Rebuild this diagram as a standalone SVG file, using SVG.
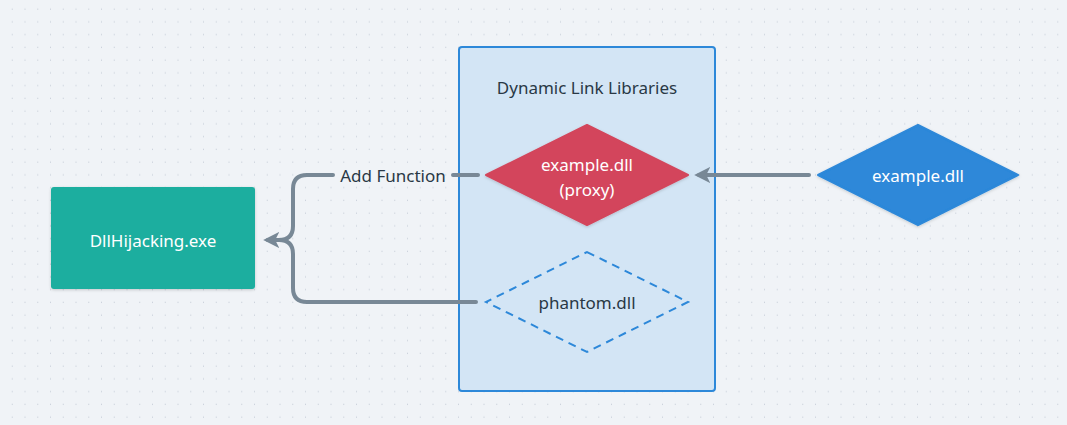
<svg xmlns="http://www.w3.org/2000/svg" width="1067" height="425" viewBox="0 0 1067 425">
<defs>
<pattern id="dots" x="0" y="0" width="12.75" height="12.75" patternUnits="userSpaceOnUse">
<rect x="12" y="8.5" width="1.3" height="1.3" fill="#bfc6d2"/>
</pattern>
<marker id="arr" viewBox="0 0 10 10" refX="7" refY="5" markerWidth="4" markerHeight="4" orient="auto" markerUnits="strokeWidth">
<path d="M0,0 L10,5 L0,10 L2.5,5 Z" fill="#788896"/>
</marker>
<filter id="sh" x="-10%" y="-10%" width="120%" height="130%">
<feDropShadow dx="0" dy="1" stdDeviation="1.5" flood-color="#000" flood-opacity="0.18"/>
</filter>
</defs>
<style>
text{font-family:"Noto Sans","DejaVu Sans",sans-serif;font-size:17px;text-anchor:middle;dominant-baseline:central}
.w{fill:#ffffff}
.d{fill:#293845}
.c{fill:none;stroke:#788896;stroke-width:4;stroke-linecap:round;stroke-linejoin:round}
</style>
<rect width="1067" height="425" fill="#f0f3f7"/>
<rect width="1067" height="425" fill="url(#dots)"/>
<g id="container">
<rect x="459" y="47" width="256" height="344" rx="3" fill="#d3e5f5" stroke="#2d88d9" stroke-width="2"/>
<text class="d" x="587" y="87">Dynamic Link Libraries</text>
</g>
<g id="exe">
<rect x="51" y="187" width="204" height="102" rx="3" fill="#1aae9f" filter="url(#sh)"/>
<text class="w" x="153" y="240">DllHijacking.exe</text>
</g>
<g id="proxy">
<path d="M587,125 L688,175 L587,225 L486,175 Z" fill="#d3455b" stroke="#d3455b" stroke-width="2" stroke-linejoin="round" filter="url(#sh)"/>
<text class="w" x="587" y="164">example.dll</text>
<text class="w" x="587" y="189">(proxy)</text>
</g>
<g id="orig">
<path d="M918,125 L1018,175 L918,225 L818,175 Z" fill="#2d88d9" stroke="#2d88d9" stroke-width="2" stroke-linejoin="round" filter="url(#sh)"/>
<text class="w" x="918" y="175">example.dll</text>
</g>
<g id="phantom">
<path d="M587,252 L688,302 L587,352 L486,302 Z" fill="none" stroke="#2d88d9" stroke-width="2" stroke-dasharray="8,6"/>
<text class="d" x="587" y="302">phantom.dll</text>
</g>
<g id="connectors">
<path class="c" d="M809,175 L699,175" marker-end="url(#arr)"/>
<path class="c" d="M478,175 L453,175 M333,175 L307,175 Q293,175 293,189 L293,226 Q293,240 279,240 L268,240" marker-end="url(#arr)"/>
<path class="c" d="M476,302 L307,302 Q293,302 293,288 L293,254 Q293,240 279,240 L268,240"/>
<text class="d" x="393" y="175">Add Function</text>
</g>
</svg>
